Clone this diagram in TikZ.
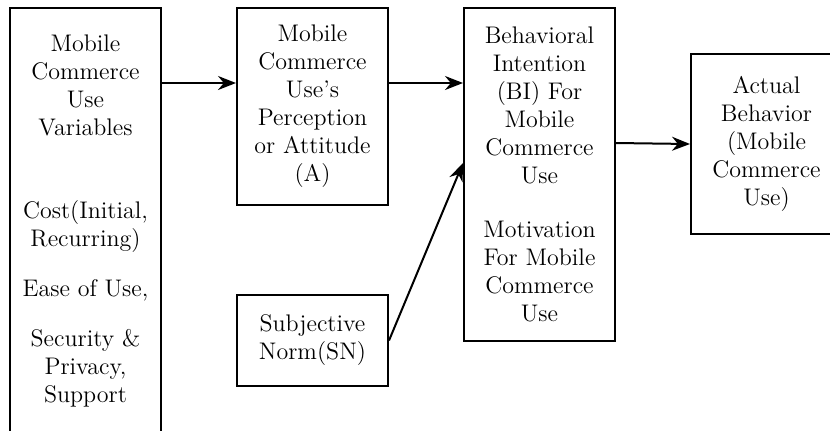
\documentclass[tikz,border=0pt]{standalone}
\usetikzlibrary{arrows.meta}

\tikzset{
  box/.style={draw, line width=1pt, anchor=north west, inner sep=0pt,
    minimum width=75.5pt, align=center, font=\fontsize{12}{14}\selectfont},
}

\begin{document}
\begin{tikzpicture}[x=0.5pt,y=-0.5pt]
  \useasboundingbox (0,0) rectangle (830,430);
  \node[box, minimum height=212.5pt] (vars) at (9,7)
    {Mobile\\Commerce\\Use\\Variables\\[27.5pt]Cost(Initial,\\Recurring)\\[11pt]Ease of Use,\\[11pt]Security \&\\Privacy,\\Support};
  \node[box, minimum height=98.5pt] (perc) at (236,7)
    {Mobile\\Commerce\\Use's\\Perception\\or Attitude\\(A)};
  \node[box, minimum height=45.5pt] (sn) at (236,294)
    {Subjective\\Norm(SN)};
  \node[box, minimum height=166.5pt] (bi) at (463,7)
    {Behavioral\\Intention\\(BI) For\\Mobile\\Commerce\\Use\\[13pt]Motivation\\For Mobile\\Commerce\\Use};
  \node[box, minimum height=90pt] (act) at (690,53)
    {Actual\\Behavior\\(Mobile\\Commerce\\Use)};
  \path[-{Stealth[length=9pt,width=7pt]}, line width=1pt]
    ([yshift=-38pt]vars.north east) edge ([yshift=-38pt]perc.north west)
    ([yshift=-38pt]perc.north east) edge ([yshift=-38pt]bi.north west)
    (sn.east) edge ([yshift=-78pt]bi.north west)
    ([yshift=-68pt]bi.north east) edge (act.west);
\end{tikzpicture}
\end{document}
